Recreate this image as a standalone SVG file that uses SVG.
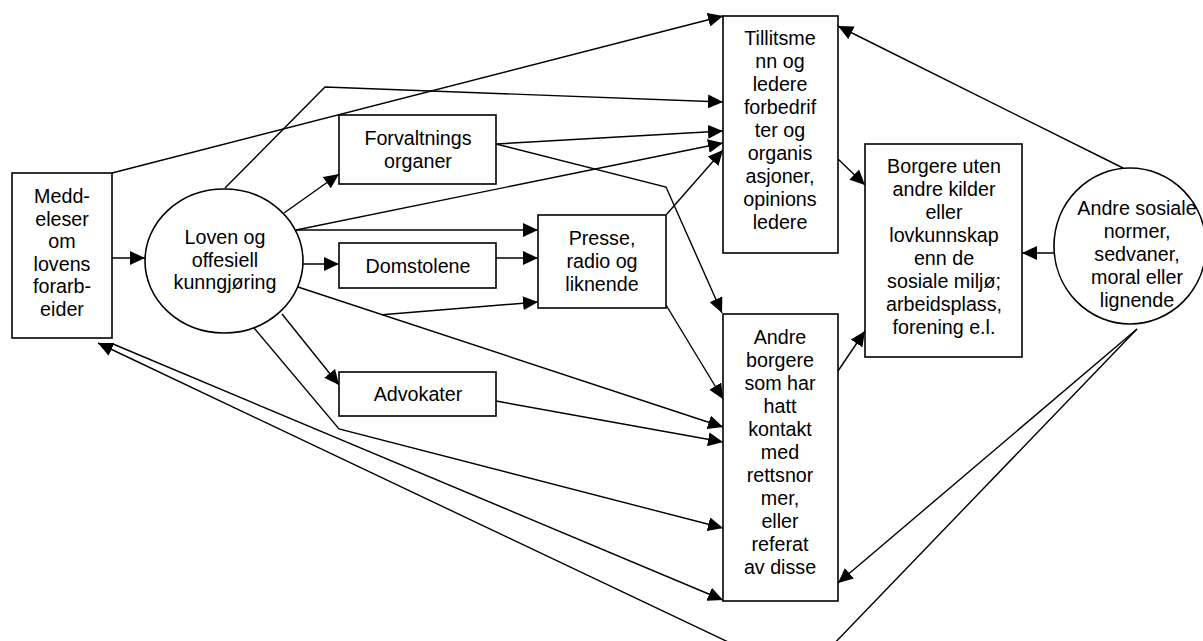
<svg xmlns="http://www.w3.org/2000/svg" width="1203" height="641" viewBox="0 0 1203 641">
<defs>
<marker id="ah" markerUnits="userSpaceOnUse" markerWidth="16" markerHeight="14" refX="15" refY="7" orient="auto">
<path d="M0,0 L15,7 L0,14 z" fill="#000"/>
</marker>
<style>
.n{fill:#fff;stroke:#000;stroke-width:1.6}
.c{fill:none;stroke:#000;stroke-width:1.4;marker-end:url(#ah)}
.p{fill:none;stroke:#000;stroke-width:1.4}
text{font-family:"Liberation Sans",Arial,sans-serif;font-size:19.7px;fill:#000;text-anchor:middle}
</style>
</defs>
<rect width="1203" height="641" fill="#fff"/>
<g id="connectors">
<line class="c" x1="112" y1="258" x2="145" y2="258"/>
<line class="c" x1="112" y1="173" x2="723" y2="16"/>
<polyline class="c" points="225,188 325,87 723,102"/>
<line class="c" x1="496" y1="144" x2="723" y2="131"/>
<polyline class="c" points="496,144 666,187 722,313"/>
<line class="c" x1="284" y1="213" x2="339" y2="174"/>
<line class="c" x1="296" y1="230" x2="723" y2="143"/>
<line class="c" x1="296" y1="230" x2="538" y2="230"/>
<line class="c" x1="666" y1="215" x2="723" y2="150"/>
<line class="c" x1="303" y1="264" x2="339" y2="264"/>
<line class="c" x1="496" y1="258" x2="538" y2="258"/>
<line class="c" x1="382" y1="314.7" x2="538" y2="302"/>
<line class="c" x1="298" y1="287" x2="723" y2="427"/>
<line class="c" x1="666" y1="305" x2="723" y2="399"/>
<line class="c" x1="282" y1="314" x2="339" y2="385"/>
<line class="c" x1="496" y1="401" x2="723" y2="442"/>
<polyline class="c" points="254,328 339,429 723,528"/>
<line class="c" x1="113" y1="344" x2="723" y2="600"/>
<polyline class="c" points="1137,329 802,677 98,343"/>
<line class="c" x1="838" y1="159" x2="865" y2="185"/>
<line class="c" x1="838" y1="371" x2="865" y2="331"/>
<line class="c" x1="1055" y1="253" x2="1022" y2="253"/>
<line class="c" x1="1123" y1="168" x2="838" y2="26"/>
<line class="c" x1="1137" y1="329" x2="838" y2="583"/>
</g>
<g id="medd">
<rect class="n" x="12" y="173" width="100" height="165"/>
<text x="62" y="203">Medd-</text>
<text x="62" y="225.5">eleser</text>
<text x="62" y="248">om</text>
<text x="62" y="270.5">lovens</text>
<text x="62" y="293">forarb-</text>
<text x="62" y="315.5">eider</text>
</g>
<g id="loven">
<ellipse class="n" cx="224" cy="261" rx="79" ry="72"/>
<text x="225" y="243.5">Loven og</text>
<text x="225" y="266.5">offesiell</text>
<text x="225" y="289">kunngjøring</text>
</g>
<g id="forvaltning">
<rect class="n" x="339" y="115" width="157" height="69"/>
<text x="418" y="144.5">Forvaltnings</text>
<text x="418" y="167.5">organer</text>
</g>
<g id="domstolene">
<rect class="n" x="339" y="243" width="157" height="45"/>
<text x="418" y="273">Domstolene</text>
</g>
<g id="advokater">
<rect class="n" x="339" y="372" width="157" height="44"/>
<text x="418" y="401">Advokater</text>
</g>
<g id="presse">
<rect class="n" x="538" y="215" width="128" height="93"/>
<text x="602" y="244.5">Presse,</text>
<text x="602" y="267.5">radio og</text>
<text x="602" y="290.5">liknende</text>
</g>
<g id="tillitsmenn">
<rect class="n" x="723" y="16" width="115" height="237"/>
<text x="780" y="45">Tillitsme</text>
<text x="780" y="68">nn og</text>
<text x="780" y="91">ledere</text>
<text x="780" y="114">forbedrif</text>
<text x="780" y="137">ter og</text>
<text x="780" y="160">organis</text>
<text x="780" y="183">asjoner,</text>
<text x="780" y="206">opinions</text>
<text x="780" y="228.5">ledere</text>
</g>
<g id="andre-borgere">
<rect class="n" x="723" y="314" width="115" height="287"/>
<text x="780" y="344">Andre</text>
<text x="780" y="367">borgere</text>
<text x="780" y="390">som har</text>
<text x="780" y="413">hatt</text>
<text x="780" y="436">kontakt</text>
<text x="780" y="459">med</text>
<text x="780" y="482">rettsnor</text>
<text x="780" y="505">mer,</text>
<text x="780" y="528">eller</text>
<text x="780" y="551">referat</text>
<text x="780" y="574">av disse</text>
</g>
<g id="borgere">
<rect class="n" x="865" y="144" width="157" height="213"/>
<text x="944" y="173">Borgere uten</text>
<text x="944" y="196">andre kilder</text>
<text x="944" y="219">eller</text>
<text x="944" y="242">lovkunnskap</text>
<text x="944" y="265">enn de</text>
<text x="944" y="288">sosiale miljø;</text>
<text x="944" y="311">arbeidsplass,</text>
<text x="944" y="334">forening e.l.</text>
</g>
<g id="andre-sosiale">
<ellipse class="n" cx="1130" cy="246" rx="76" ry="78"/>
<text x="1137" y="215">Andre sosiale</text>
<text x="1137" y="238">normer,</text>
<text x="1137" y="261">sedvaner,</text>
<text x="1137" y="284">moral eller</text>
<text x="1137" y="306.5">lignende</text>
</g>
</svg>
